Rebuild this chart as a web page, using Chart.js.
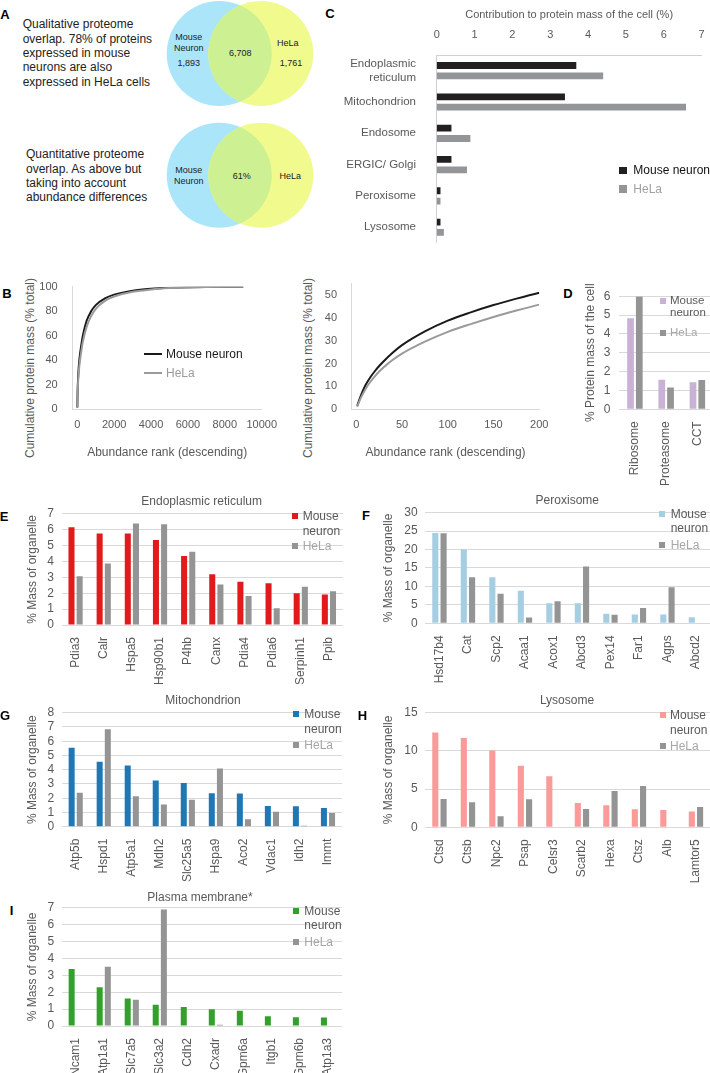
<!DOCTYPE html>
<html>
<head>
<meta charset="utf-8">
<title>Neuron vs HeLa proteome</title>
<script src="https://cdn.jsdelivr.net/npm/chart.js@4.4.1/dist/chart.umd.min.js"></script>
<style>
  html, body { margin: 0; padding: 0; background: #fff; }
  #fig { position: relative; width: 710px; height: 1073px; overflow: hidden; font-family: "Liberation Sans", Arial, sans-serif; }
  #fig canvas { position: absolute; }
  .txt { position: absolute; white-space: nowrap; line-height: 1; }
  .sq { position: absolute; }
  #venn { position: absolute; left: 0; top: 0; }
</style>
</head>
<body>
<div id="fig">
  <svg id="venn" width="340" height="240">
    <defs>
      <clipPath id="blue1"><circle cx="219.2" cy="53.5" r="52.5"/></clipPath>
      <clipPath id="blue2"><circle cx="219.2" cy="175.3" r="52.5"/></clipPath>
    </defs>
    <circle cx="219.2" cy="53.5" r="52.5" fill="#abe5fa"/>
    <circle cx="260.8" cy="53.5" r="52.5" fill="#f1fa8d"/>
    <circle cx="260.8" cy="53.5" r="52.5" fill="#cdf092" clip-path="url(#blue1)"/>
    <circle cx="219.2" cy="175.3" r="52.5" fill="#abe5fa"/>
    <circle cx="260.8" cy="175.3" r="52.5" fill="#f1fa8d"/>
    <circle cx="260.8" cy="175.3" r="52.5" fill="#cdf092" clip-path="url(#blue2)"/>
  </svg>
  <canvas id="chartB1"></canvas>
  <canvas id="chartB2"></canvas>
  <canvas id="chartC"></canvas>
  <canvas id="chartD"></canvas>
  <canvas id="chartE"></canvas>
  <canvas id="chartF"></canvas>
  <canvas id="chartG"></canvas>
  <canvas id="chartH"></canvas>
  <canvas id="chartI"></canvas>
</div>
<script>
// ---------- data ----------
// B: cumulative protein mass vs abundance rank
var rankPoints   = [1, 5, 10, 15, 20, 25, 30, 40, 50, 75, 100, 125, 150, 175, 200, 300, 500, 750, 1000, 1500, 2000, 3000, 4000, 5000, 6000, 7000, 8000, 9000];
var cumMassMouse = [1.5, 6, 10.5, 13.8, 16.5, 18.9, 21, 24.8, 28, 34, 38.7, 42.3, 45.5, 48.3, 50.9, 60, 72, 80, 85, 90.5, 93.5, 96.8, 98.4, 99.2, 99.6, 99.8, 99.9, 100];
var cumMassHela  = [1.2, 5, 8.8, 11.8, 14.3, 16.5, 18.4, 21.6, 24.3, 29.5, 33.8, 37.2, 40.3, 43.1, 45.7, 55, 67, 76, 82, 88.5, 92, 95.8, 97.8, 98.9, 99.4, 99.7, 99.9, 100];
var rankTicksAll = [0, 2000, 4000, 6000, 8000, 10000];
var cumTicksAll  = [0, 20, 40, 60, 80, 100];
var rankTicksTop = [0, 50, 100, 150, 200];
var cumTicksTop  = [0, 10, 20, 30, 40, 50];

// C: contribution to protein mass of the cell (%)
var organelles = [["Endoplasmic", "reticulum"], "Mitochondrion", "Endosome", "ERGIC/ Golgi", "Peroxisome", "Lysosome"];
var orgMouse = [3.69, 3.39, 0.39, 0.39, 0.1, 0.1];
var orgHela  = [4.40, 6.59, 0.89, 0.80, 0.1, 0.19];

// D: complexes
var complexes  = ["Ribosome", "Proteasome", "CCT"];
var cpxMouse = [4.83, 1.57, 1.44];
var cpxHela  = [5.98, 1.16, 1.55];

// E: endoplasmic reticulum
var erNames = ["Pdia3", "Calr", "Hspa5", "Hsp90b1", "P4hb", "Canx", "Pdia4", "Pdia6", "Serpinh1", "Ppib"];
var erMouse = [6.15, 5.75, 5.75, 5.35, 4.34, 3.19, 2.72, 2.62, 2.0, 1.92];
var erHela  = [3.07, 3.87, 6.39, 6.33, 4.6, 2.54, 1.82, 1.05, 2.4, 2.12];

// F: peroxisome
var pxNames = ["Hsd17b4", "Cat", "Scp2", "Acaa1", "Acox1", "Abcd3", "Pex14", "Far1", "Agps", "Abcd2"];
var pxMouse = [24.5, 20.0, 12.5, 8.8, 5.45, 5.45, 2.6, 2.42, 2.42, 1.64];
var pxHela  = [24.4, 12.5, 8.0, 1.55, 5.96, 15.4, 2.33, 4.15, 9.77, 0];

// G: mitochondrion
var mtNames = ["Atp5b", "Hspd1", "Atp5a1", "Mdh2", "Slc25a5", "Hspa9", "Aco2", "Vdac1", "Idh2", "Immt"];
var mtMouse = [5.54, 4.55, 4.3, 3.25, 3.07, 2.35, 2.33, 1.46, 1.44, 1.32];
var mtHela  = [2.38, 6.84, 2.13, 1.55, 1.9, 4.08, 0.52, 1.05, 0.07, 0.96];

// H: lysosome
var lyNames = ["Ctsd", "Ctsb", "Npc2", "Psap", "Celsr3", "Scarb2", "Hexa", "Ctsz", "Alb", "Lamtor5"];
var lyMouse = [12.4, 11.7, 10.04, 8.07, 6.68, 3.19, 2.9, 2.35, 2.27, 2.06];
var lyHela  = [3.7, 3.28, 1.43, 3.66, 0, 2.4, 4.75, 5.42, 0, 2.65];

// I: plasma membrane
var pmNames = ["Ncam1", "Atp1a1", "Slc7a5", "Slc3a2", "Cdh2", "Cxadr", "Gpm6a", "Itgb1", "Gpm6b", "Atp1a3"];
var pmMouse = [3.38, 2.29, 1.63, 1.26, 1.13, 0.99, 0.9, 0.57, 0.52, 0.5];
var pmHela  = [0, 3.5, 1.55, 6.9, 0, 0.08, 0, 0, 0, 0];

// ---------- colours ----------
var HELA_GREY = "#949494";
var TXT = "#595959";

Chart.defaults.font.family = '"Liberation Sans", Arial, sans-serif';
Chart.defaults.color = TXT;

var fig = document.getElementById("fig");

function addText(str, x, y, o) {
    o = o || {};
    var d = document.createElement("div");
    d.className = "txt";
    d.textContent = str;
    d.style.left = x + "px";
    d.style.top = y + "px";
    d.style.fontSize = (o.size || 12) + "px";
    d.style.color = o.color || TXT;
    if (o.bold) d.style.fontWeight = "bold";
    var tx = o.align === "center" ? "-50%" : (o.align === "right" ? "-100%" : "0");
    var tr = "translate(" + tx + ",-50%)";
    if (o.rot) tr += " rotate(" + o.rot + "deg)";
    d.style.transform = tr;
    fig.appendChild(d);
}

function addSquare(cx, cy, size, color, h) {
    var d = document.createElement("div");
    d.className = "sq";
    d.style.left = (cx - size / 2) + "px";
    d.style.top = (cy - (h || size) / 2) + "px";
    d.style.width = size + "px";
    d.style.height = (h || size) + "px";
    d.style.background = color;
    fig.appendChild(d);
}

function place(id, box) {
    var c = document.getElementById(id);
    c.width = Math.round(box.right - box.left);
    c.height = Math.round(box.bottom - box.top);
    c.style.left = box.left + "px";
    c.style.top = box.top + "px";
    return c;
}

function baseOptions(box, plot) {
    return {
        responsive: false,
        animation: false,
        devicePixelRatio: 1,
        layout: { padding: { top: plot.top - box.top, right: box.right - plot.right, left: 0, bottom: 0 } },
        plugins: { legend: { display: false }, tooltip: { enabled: false } }
    };
}

function plainNumber(v) { return String(v); }

// ---------- panel B ----------
function toXY(ys) {
    return rankPoints.map(function (r, i) { return { x: r, y: ys[i] }; });
}

function curveChart(id, box, plot, xMin, xMax, xTicks, yMax, yTicks, tickPadY) {
    var opts = baseOptions(box, plot);
    opts.scales = {
        x: {
            type: "linear", min: xMin, max: xMax,
            grid: { display: false },
            border: { color: "#d9d9d9" },
            ticks: { font: { size: 11 }, padding: 1.5, maxRotation: 0, autoSkip: false, callback: plainNumber },
            afterBuildTicks: function (s) { s.ticks = xTicks.map(function (v) { return { value: v }; }); },
            title: { display: true, text: "Abundance rank (descending)", font: { size: 12 }, padding: 0, color: TXT },
            afterFit: function (s) { s.height = box.bottom - plot.bottom; }
        },
        y: {
            min: 0, max: yMax,
            grid: { display: false },
            border: { color: "#d9d9d9" },
            ticks: { font: { size: 11 }, padding: tickPadY, autoSkip: false, callback: plainNumber },
            afterBuildTicks: function (s) { s.ticks = yTicks.map(function (v) { return { value: v }; }); },
            afterFit: function (s) { s.width = plot.left - box.left; }
        }
    };
    return new Chart(place(id, box), {
        type: "line",
        data: {
            datasets: [
                { data: toXY(cumMassHela), borderColor: "#9a9a9a", borderWidth: 2, pointRadius: 0, cubicInterpolationMode: "monotone" },
                { data: toXY(cumMassMouse), borderColor: "#1a1a1a", borderWidth: 2, pointRadius: 0, cubicInterpolationMode: "monotone" }
            ]
        },
        options: opts
    });
}

curveChart("chartB1",
    { left: 40, top: 272, right: 290, bottom: 460 },
    { left: 72.7, top: 286.7, right: 261.7, bottom: 409.3 },
    -250, 10000, rankTicksAll, 100, cumTicksAll, 7);
curveChart("chartB2",
    { left: 320, top: 270, right: 560, bottom: 460 },
    { left: 351.7, top: 282.7, right: 539.3, bottom: 409.3 },
    -5, 200, rankTicksTop, 55, cumTicksTop, 6.7);

// ---------- panel C ----------
(function () {
    var box = { left: 340, top: 8, right: 710, bottom: 270 };
    var plot = { left: 436.7, top: 55, right: 703.3, bottom: 261 };
    var opts = baseOptions(box, plot);
    opts.indexAxis = "y";
    opts.layout.padding.bottom = box.bottom - plot.bottom;
    opts.layout.padding.top = 0;
    opts.scales = {
        x: {
            position: "top", min: 0, max: 7,
            grid: { display: false },
            border: { color: "#d0d0d0" },
            ticks: { stepSize: 1, font: { size: 11 }, padding: 5.4 },
            title: { display: true, text: "Contribution to protein mass of the cell (%)", font: { size: 11 }, padding: 0, color: TXT },
            afterFit: function (s) { s.height = plot.top - box.top; }
        },
        y: {
            grid: { display: false },
            border: { color: "#d0d0d0" },
            ticks: { font: { size: 11.5, lineHeight: 1.25 }, padding: 12.7, autoSkip: false },
            afterFit: function (s) { s.width = plot.left - box.left; }
        }
    };
    new Chart(place("chartC", box), {
        type: "bar",
        data: {
            labels: organelles,
            datasets: [
                { data: orgMouse, backgroundColor: "#231f20", categoryPercentage: 0.66, barPercentage: 0.66 },
                { data: orgHela, backgroundColor: "#939598", categoryPercentage: 0.66, barPercentage: 0.66 }
            ]
        },
        options: opts
    });
})();

// ---------- bar panels D-I ----------
function groupedBars(id, box, plot, labels, mouse, hela, color, yMax, yStep, yTitle, cp, bp, tickPad) {
    var opts = baseOptions(box, plot);
    opts.scales = {
        x: {
            grid: { display: false },
            border: { display: false },
            ticks: { minRotation: 90, maxRotation: 90, autoSkip: false, padding: 4, font: { size: 12 } },
            afterFit: function (s) { s.height = box.bottom - plot.bottom; }
        },
        y: {
            min: 0, max: yMax,
            grid: { color: "#d9d9d9", drawTicks: false },
            border: { display: false },
            ticks: { stepSize: yStep, padding: tickPad, font: { size: 12 }, autoSkip: false },
            title: { display: true, text: yTitle, font: { size: 12 }, padding: 0, color: TXT },
            afterFit: function (s) { s.width = plot.left - box.left; }
        }
    };
    return new Chart(place(id, box), {
        type: "bar",
        data: {
            labels: labels,
            datasets: [
                { data: mouse, backgroundColor: color, categoryPercentage: cp, barPercentage: bp },
                { data: hela, backgroundColor: HELA_GREY, categoryPercentage: cp, barPercentage: bp }
            ]
        },
        options: opts
    });
}

groupedBars("chartD", { left: 583, top: 280, right: 725, bottom: 485 },
    { left: 619.3, top: 288.3, right: 713, bottom: 409.3 },
    complexes, cpxMouse, cpxHela, "#cab2d6", 6, 1, "% Protein mass of the cell", 0.56, 0.77, 9);

groupedBars("chartE", { left: 24.5, top: 499, right: 350, bottom: 705 },
    { left: 61, top: 509.3, right: 342, bottom: 625 },
    erNames, erMouse, erHela, "#e31a1c", 7, 1, "% Mass of organelle", 0.58, 0.74, 7.5);

groupedBars("chartF", { left: 381, top: 498, right: 720, bottom: 705 },
    { left: 425.2, top: 507.5, right: 710.2, bottom: 623.3 },
    pxNames, pxMouse, pxHela, "#a6cee3", 30, 5, "% Mass of organelle", 0.58, 0.74, 7.5);

groupedBars("chartG", { left: 24.8, top: 698, right: 350, bottom: 885 },
    { left: 61.5, top: 707.7, right: 342, bottom: 826.7 },
    mtNames, mtMouse, mtHela, "#1f78b4", 8, 1, "% Mass of organelle", 0.58, 0.74, 7.5);

groupedBars("chartH", { left: 381, top: 698, right: 720, bottom: 885 },
    { left: 425.2, top: 708.3, right: 710.2, bottom: 827.3 },
    lyNames, lyMouse, lyHela, "#fb9a99", 15, 5, "% Mass of organelle", 0.58, 0.74, 7.5);

groupedBars("chartI", { left: 24.8, top: 893, right: 350, bottom: 1073 },
    { left: 61.5, top: 904, right: 342, bottom: 1026 },
    pmNames, pmMouse, pmHela, "#33a02c", 7, 1, "% Mass of organelle", 0.58, 0.74, 7.5);

// ---------- text: panel letters ----------
[["A", 5, 14], ["B", 7, 292.5], ["C", 330, 13], ["D", 568, 292.5], ["E", 4, 515.5],
 ["F", 366, 514.5], ["G", 5, 714.5], ["H", 362.5, 714.5], ["I", 11.5, 910]].forEach(function (p) {
    addText(p[0], p[1], p[2], { size: 13, bold: true, color: "#000", align: "center" });
});

// panel A text
var DARK = "#222";
["Qualitative proteome", "overlap. 78% of proteins", "expressed in mouse", "neurons are also", "expressed in HeLa cells"]
    .forEach(function (s, i) { addText(s, 22.7, 24.3 + i * 14.35, { color: DARK }); });
["Quantitative proteome", "overlap. As above but", "taking into account", "abundance differences"]
    .forEach(function (s, i) { addText(s, 26, 154.3 + i * 14.33, { color: DARK }); });
addText("Mouse", 188.7, 36.7, { size: 9, color: DARK, align: "center" });
addText("Neuron", 188.7, 47.7, { size: 9, color: DARK, align: "center" });
addText("1,893", 188.7, 62.7, { size: 9, color: DARK, align: "center" });
addText("6,708", 240.3, 52.7, { size: 9, color: DARK, align: "center" });
addText("HeLa", 287.7, 43.3, { size: 9, color: DARK, align: "center" });
addText("1,761", 291, 62.7, { size: 9, color: DARK, align: "center" });
addText("Mouse", 188.7, 170, { size: 9, color: DARK, align: "center" });
addText("Neuron", 188.7, 181, { size: 9, color: DARK, align: "center" });
addText("61%", 241.7, 175.7, { size: 9, color: DARK, align: "center" });
addText("HeLa", 290.3, 175.7, { size: 9, color: DARK, align: "center" });

// panel B titles and legend
addText("Cumulative protein mass (% total)", 30, 368, { align: "center", rot: -90 });
addText("Cumulative protein mass (% total)", 307.5, 368, { align: "center", rot: -90 });
addSquare(153, 354.3, 17.5, "#1a1a1a", 2);
addText("Mouse neuron", 166, 354.3, { color: "#1a1a1a" });
addSquare(153, 372.7, 17.5, "#9a9a9a", 2);
addText("HeLa", 166, 372.7, { color: "#9a9a9a" });

// panel C legend
addSquare(623, 170.3, 7.4, "#231f20");
addText("Mouse neuron", 633.3, 170.3, { color: "#111" });
addSquare(623, 189, 7.4, "#939598");
addText("HeLa", 633.3, 189, { color: "#a0a0a0" });

// legends for D-I
function organelleLegend(sqX, textX, y1, y2, y3, color, size) {
    addSquare(sqX, y1, 6.3, color);
    addText("Mouse", textX, y1, { size: size || 12 });
    addText("neuron", textX, y2, { size: size || 12 });
    addSquare(sqX, y3, 6.3, HELA_GREY);
    addText("HeLa", textX, y3, { size: size || 12, color: "#a6a6a6" });
}
organelleLegend(663, 670, 300.7, 313.3, 332.8, "#cab2d6", 11.5);
organelleLegend(295, 302.7, 515.7, 530.7, 546, "#e31a1c");
organelleLegend(662.3, 670.7, 514, 528.3, 545, "#a6cee3");
organelleLegend(296.3, 304.3, 714.2, 729.3, 744.8, "#1f78b4");
organelleLegend(663, 670, 715, 730, 746.3, "#fb9a99");
organelleLegend(296.3, 304.3, 911.3, 925, 942.2, "#33a02c");

// chart titles
addText("Endoplasmic reticulum", 201.7, 501, { align: "center" });
addText("Peroxisome", 567.3, 500, { align: "center" });
addText("Mitochondrion", 203, 700, { align: "center" });
addText("Lysosome", 567, 700, { align: "center" });
addText("Plasma membrane*", 200, 896.7, { align: "center" });
</script>
</body>
</html>
